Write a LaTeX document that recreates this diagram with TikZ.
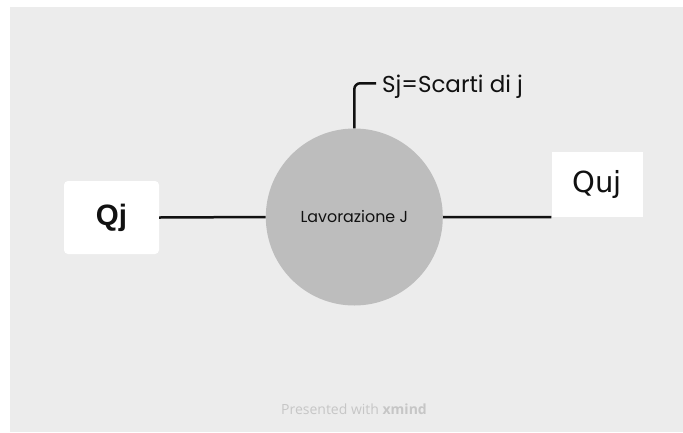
\documentclass[tikz,border=0pt]{standalone}
\usepackage{fontspec}
\setmainfont{Poppins}
\newfontfamily\boxbold{Liberation Sans}
\newfontfamily\boxreg{DejaVu Sans}
\newfontfamily\footfont{Open Sans}
\definecolor{canvas}{HTML}{ECECEC}
\definecolor{bubble}{HTML}{BDBDBD}
\definecolor{ink}{HTML}{111111}
\definecolor{faint}{HTML}{C6C6C6}
\tikzset{
  topicbox/.style={fill=white, draw=none, inner sep=0pt, text=ink},
  link/.style={draw=ink, line width=2.5pt},
}
\begin{document}
\begin{tikzpicture}[x=1pt, y=-1pt]
  \useasboundingbox (0,0) rectangle (683,432);
  \fill[canvas] (10,7) rectangle (683,432);

  % central topic
  \node[circle, fill=bubble, minimum size=177pt, inner sep=0pt, text=ink,
        font=\fontsize{15.9}{18}\selectfont] (lav) at (354.3,217) {Lavorazione J};

  % input and output boxes
  \node[topicbox, rounded corners=4pt, minimum width=95pt, minimum height=73pt,
        font=\boxbold\bfseries\fontsize{29.5}{34}\selectfont] (qj) at (111.5,217.5) {Qj};
  \node[topicbox, minimum width=91pt, minimum height=65pt,
        font=\boxreg\fontsize{29}{33}\selectfont] (quj) at (597,184.5) {Quj};

  % waste label
  \node[anchor=base west, inner xsep=6pt, inner ysep=0pt, text depth=0pt, text=ink,
        font=\fontsize{23}{26}\selectfont] (sj) at (376,92) {Sj=Scarti di j};

  % connectors
  \draw[link] (qj.east) -- (lav.west);
  \draw[link] (lav.east) -- (quj.south west);
  \draw[link, rounded corners=6pt] (lav.north) |- (sj.west);

  % footer
  \node[anchor=base, text=faint, font=\footfont\fontsize{14}{16}\selectfont] (foot)
    at (354,414) {Presented with \textbf{xmind}};
\end{tikzpicture}
\end{document}
